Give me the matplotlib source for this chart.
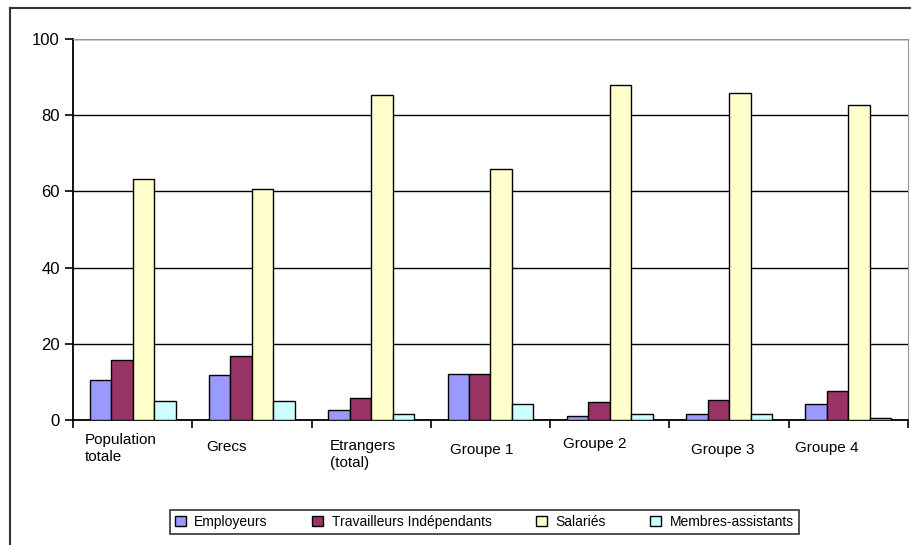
import numpy as np
import matplotlib
matplotlib.use("Agg")
import matplotlib.pyplot as plt
from matplotlib.lines import Line2D

plt.rcParams['font.family'] = ['Liberation Sans', 'DejaVu Sans']

categories = ["Population\ntotale", "Grecs", "Etrangers\n(total)", "Groupe 1",
              "Groupe 2", "Groupe 3", "Groupe 4"]
series = ["Employeurs", "Travailleurs Indépendants", "Salariés", "Membres-assistants"]
employeurs = [10.6, 11.7, 2.7, 12.2, 1.0, 1.5, 4.3]
travailleurs = [15.8, 16.8, 5.9, 12.2, 4.8, 5.3, 7.5]
salaries = [63.2, 60.6, 85.3, 66.0, 87.9, 85.8, 82.6]
membres = [4.9, 4.9, 1.5, 4.2, 1.5, 1.5, 0.5]
colors = ["#9999FF", "#993366", "#FFFFCC", "#CCFFFF"]

# label placement (offset from category centre, vertical pos in axes fraction, va)
lab_dx = [-0.40, -0.385, -0.345, -0.34, -0.395, -0.32, -0.45]
lab_y = [-0.034, -0.071, -0.050, -0.079, -0.063, -0.079, -0.073]
lab_va = ["top", "center", "top", "center", "center", "center", "center"]

fig = plt.figure(figsize=(9.12, 5.45), dpi=100)
ax = fig.add_axes([0.080, 0.2294, 0.9156, 0.699])

x = np.arange(len(categories))
w = 0.18
data = [employeurs, travailleurs, salaries, membres]
for k, (vals, c, name) in enumerate(zip(data, colors, series)):
    ax.bar(x + (k - 1.5) * w, vals, w, color=c, edgecolor="black",
           linewidth=1.0, label=name, zorder=3)

ax.set_xlim(-0.5, len(categories) - 0.5)
ax.set_ylim(0, 100)
ax.set_yticks([0, 20, 40, 60, 80, 100])
ax.yaxis.grid(True, color="black", linewidth=1.0, zorder=0)
ax.set_axisbelow(True)

ax.set_xticks(np.arange(-0.5, len(categories)))
ax.set_xticklabels([])
ax.tick_params(axis="x", direction="out", length=6, width=1.2, color="black")
ax.tick_params(axis="y", direction="out", length=6, width=1.2, color="black",
               labelsize=12, pad=3.5)

ax.spines["left"].set_linewidth(1.3)
ax.spines["bottom"].set_linewidth(1.3)
ax.spines["top"].set_color("#999999")
ax.spines["right"].set_color("#999999")

trans = ax.get_xaxis_transform()
for i, lab in enumerate(categories):
    ax.text(i + lab_dx[i], lab_y[i], lab, transform=trans, ha="left",
            va=lab_va[i], fontsize=11, linespacing=1.25)

leg = fig.legend(loc="center", bbox_to_anchor=(0.531, 0.0422), ncol=4,
                 fontsize=10, frameon=True, fancybox=False, handlelength=0.8,
                 handleheight=0.8, handletextpad=0.6, columnspacing=3.2,
                 borderpad=0.35)
leg.get_frame().set_edgecolor("black")
leg.get_frame().set_linewidth(1.2)

# outer chart border (cropped at right and bottom)
fig.add_artist(Line2D([10 / 912, 1.0], [1 - 8 / 545, 1 - 8 / 545],
                      transform=fig.transFigure, color="#333333", lw=1.5))
fig.add_artist(Line2D([10 / 912, 10 / 912], [0, 1 - 8 / 545],
                      transform=fig.transFigure, color="#333333", lw=1.5))

fig.savefig("out.png", dpi=100)
